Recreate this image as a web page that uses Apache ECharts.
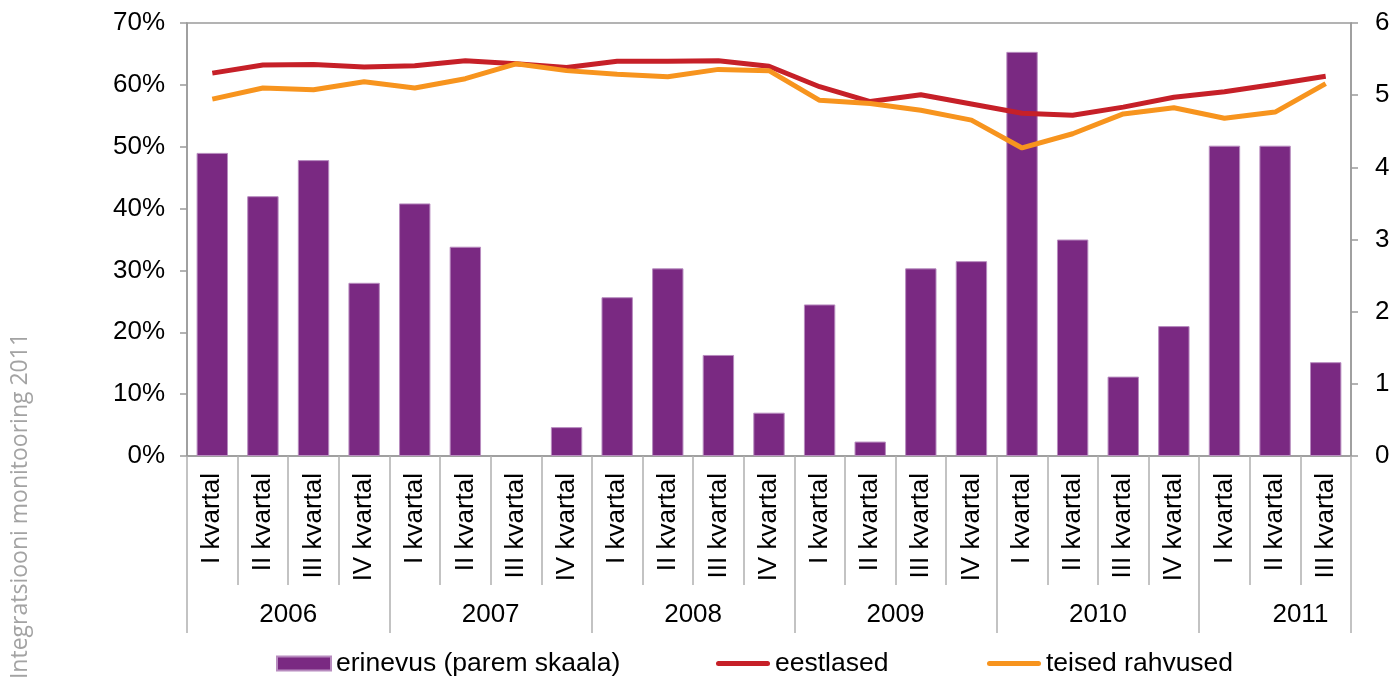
<!DOCTYPE html>
<html>
<head>
<meta charset="utf-8">
<script src="https://cdn.jsdelivr.net/npm/echarts@6/dist/echarts.min.js"></script>
<style>
  html, body { margin: 0; padding: 0; background: #fff; }
  #main { width: 1400px; height: 677px; }
</style>
</head>
<body>
<div id="main"></div>
<script>
// kvartalid ja aastad
const quarters = [
  'I kvartal', 'II kvartal', 'III kvartal', 'IV kvartal',
  'I kvartal', 'II kvartal', 'III kvartal', 'IV kvartal',
  'I kvartal', 'II kvartal', 'III kvartal', 'IV kvartal',
  'I kvartal', 'II kvartal', 'III kvartal', 'IV kvartal',
  'I kvartal', 'II kvartal', 'III kvartal', 'IV kvartal',
  'I kvartal', 'II kvartal', 'III kvartal'
];
const years = ['2006', '2007', '2008', '2009', '2010', '2011'];

// erinevus (parem skaala)
const erinevus = [4.2, 3.6, 4.1, 2.4, 3.5, 2.9, 0, 0.4, 2.2, 2.6, 1.4, 0.6,
  2.1, 0.2, 2.6, 2.7, 5.6, 3.0, 1.1, 1.8, 4.3, 4.3, 1.3];
// eestlased, %
const eestlased = [61.9, 63.2, 63.3, 62.9, 63.1, 63.9, 63.4, 62.8, 63.8, 63.8, 63.9, 63.0,
  59.7, 57.3, 58.4, 56.9, 55.4, 55.1, 56.4, 58.0, 58.9, 60.1, 61.4];
// teised rahvused, %
const teised = [57.7, 59.5, 59.2, 60.5, 59.5, 61.0, 63.4, 62.3, 61.7, 61.3, 62.5, 62.3,
  57.5, 57.0, 55.9, 54.3, 49.8, 52.1, 55.3, 56.3, 54.6, 55.6, 60.2];

const yearLabels = [];
for (let i = 0; i < 24; i++) {
  yearLabels.push(i % 4 === 2 ? years[(i - 2) / 4] : '');
}

const font = 'Liberation Sans';
const axisGray = '#9a9a9a';
const purple = '#7a2982';
const red = '#c62028';
const orange = '#f7941e';
const lineIcon = 'path://M2.5,0 L51.5,0 A2.5,2.5 0 0 1 51.5,5 L2.5,5 A2.5,2.5 0 0 1 2.5,0 Z';

function legendAt (left, name, icon) {
  return {
    left: left,
    top: 650,
    padding: 0,
    itemWidth: 54,
    itemHeight: 14,
    textStyle: { fontSize: 26.5, color: '#000', fontFamily: font },
    data: [{ name: name, icon: icon }]
  };
}

const myChart = echarts.init(document.getElementById('main'));
const option = {
  animation: false,
  textStyle: { fontFamily: font },
  grid: {
    left: 187, right: 49, top: 23, bottom: 221,
    show: true, borderColor: axisGray, borderWidth: 1.5
  },
  legend: [
    legendAt(276, 'erinevus (parem skaala)', 'rect'),
    legendAt(716, 'eestlased', lineIcon),
    legendAt(987, 'teised rahvused', lineIcon)
  ],
  graphic: [{
    type: 'text',
    x: 20,
    y: 506,
    rotation: Math.PI / 2,
    style: {
      text: 'Integratsiooni monitooring 2011',
      fill: '#a3a3a3',
      font: '23px "Open Sans"',
      align: 'center',
      verticalAlign: 'middle'
    }
  }],
  xAxis: [
    {
      type: 'category',
      position: 'bottom',
      data: quarters,
      axisLine: { lineStyle: { color: axisGray, width: 1.5 } },
      axisTick: { show: true, interval: 0, length: 129, lineStyle: { color: '#b0b0b0', width: 1.5 } },
      axisLabel: { interval: 0, rotate: 90, margin: 17, fontSize: 26, color: '#000', fontFamily: font }
    },
    {
      type: 'category',
      position: 'bottom',
      boundaryGap: false,
      data: yearLabels,
      axisLine: { show: false },
      axisTick: {
        show: true,
        length: 177,
        interval: function (index) { return index % 4 === 0 || index === 23; },
        lineStyle: { color: '#b0b0b0', width: 1.5 }
      },
      axisLabel: { interval: 0, margin: 146, fontSize: 26, color: '#000', fontFamily: font }
    }
  ],
  yAxis: [
    {
      type: 'value',
      min: 0, max: 70, interval: 10,
      splitLine: { show: false },
      axisLine: { show: true, lineStyle: { color: axisGray, width: 1.5 } },
      axisTick: { show: true, length: 7, lineStyle: { color: axisGray, width: 1.5 } },
      axisLabel: { formatter: '{value}%', margin: 22, fontSize: 26, color: '#000', fontFamily: font }
    },
    {
      type: 'value',
      position: 'right',
      min: 0, max: 6, interval: 1,
      splitLine: { show: false },
      axisLine: { show: true, lineStyle: { color: axisGray, width: 1.5 } },
      axisTick: { show: true, length: 7, lineStyle: { color: axisGray, width: 1.5 } },
      axisLabel: { margin: 24, fontSize: 26, color: '#000', fontFamily: font }
    }
  ],
  series: [
    {
      name: 'erinevus (parem skaala)',
      type: 'bar',
      xAxisIndex: 0,
      yAxisIndex: 1,
      data: erinevus.map(v => v === 0 ? { value: v, itemStyle: { borderWidth: 0 } } : v),
      barCategoryGap: '38%',
      color: purple,
      itemStyle: { color: purple, borderColor: '#b88cbf', borderWidth: 1 }
    },
    {
      name: 'eestlased',
      type: 'line',
      xAxisIndex: 0,
      yAxisIndex: 0,
      data: eestlased,
      symbol: 'none',
      color: red,
      lineStyle: { width: 5, color: red }
    },
    {
      name: 'teised rahvused',
      type: 'line',
      xAxisIndex: 0,
      yAxisIndex: 0,
      data: teised,
      symbol: 'none',
      color: orange,
      lineStyle: { width: 5, color: orange }
    }
  ]
};
myChart.setOption(option);
</script>
</body>
</html>
